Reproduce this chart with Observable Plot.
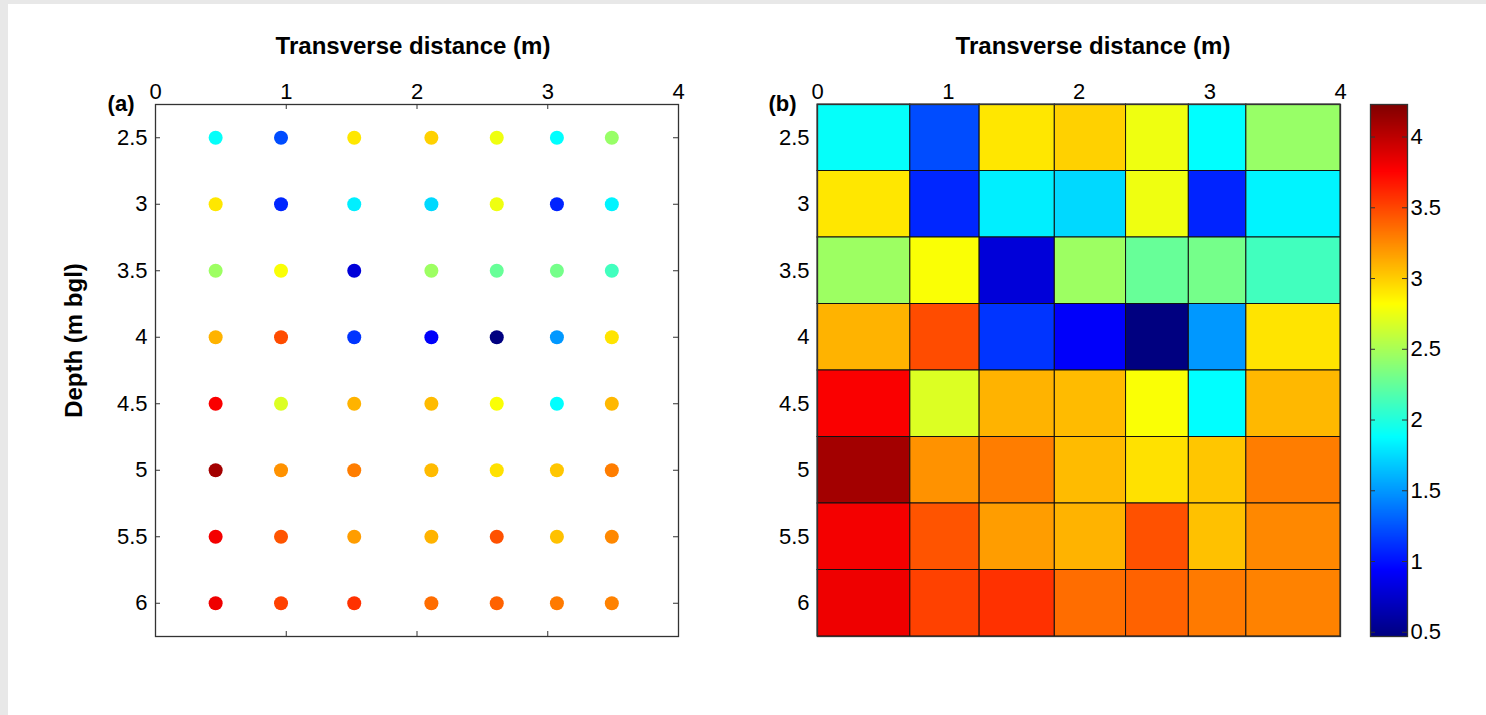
<!DOCTYPE html>
<html>
<head>
<meta charset="utf-8">
<script src="https://cdn.jsdelivr.net/npm/d3@7"></script>
<script src="https://cdn.jsdelivr.net/npm/@observablehq/plot@0.6"></script>
<style>
  body { margin: 0; }
  #page { position: relative; width: 1486px; height: 715px; background: #e8e8e8; overflow: hidden; }
  #sheet { position: absolute; left: 8px; top: 4px; right: 0; bottom: 0; background: #ffffff; }
  .panel { position: absolute; top: 0; }
</style>
</head>
<body>
<div id="page">
  <div id="sheet"></div>
  <div id="pa" class="panel" style="left:0px"></div>
  <div id="pb" class="panel" style="left:700px"></div>
  <div id="pc" class="panel" style="left:1360px"></div>
</div>
<script>
// ---- data ----
const distances = [0.46, 0.96, 1.52, 2.11, 2.61, 3.07, 3.49];   // transverse distance (m)
const depths = [2.5, 3, 3.5, 4, 4.5, 5, 5.5, 6];                // depth (m bgl)
const d25 = [1.90, 1.22, 2.91, 2.99, 2.76, 1.88, 2.44];
const d30 = [2.91, 1.08, 1.82, 1.74, 2.76, 1.07, 1.84];
const d35 = [2.46, 2.80, 0.80, 2.46, 2.26, 2.31, 2.12];
const d40 = [3.10, 3.48, 1.13, 0.92, 0.47, 1.50, 2.92];
const d45 = [3.78, 2.69, 3.10, 3.07, 2.80, 1.88, 3.08];
const d50 = [4.10, 3.22, 3.30, 3.07, 2.93, 3.03, 3.30];
const d55 = [3.80, 3.45, 3.18, 3.10, 3.46, 3.05, 3.26];
const d60 = [3.82, 3.52, 3.58, 3.36, 3.40, 3.31, 3.28];
const rows = [d25, d30, d35, d40, d45, d50, d55, d60];
const colorRange = [0.47, 4.23];                                 // colour-axis limits
const xTicks = [0, 1, 2, 3, 4];
const yTicks = [2.5, 3, 3.5, 4, 4.5, 5, 5.5, 6];
const cbTicks = [0.5, 1, 1.5, 2, 2.5, 3, 3.5, 4];
const xTitle = "Transverse distance (m)";
const yTitle = "Depth (m bgl)";

// table built from the arrays
const edgesX = [0, ...distances.slice(1).map((d, i) => (d + distances[i]) / 2), 4];
const table = [];
depths.forEach((dep, j) => distances.forEach((dist, i) => table.push({
  x: dist, y: dep, v: rows[j][i],
  x1: edgesX[i], x2: edgesX[i + 1], y1: dep - 0.25, y2: dep + 0.25
})));
const [vmin, vmax] = colorRange;

// MATLAB-like jet colormap
const jet = t => {
  const c = u => Math.round(255 * Math.max(0, Math.min(1, u)));
  return `rgb(${c(1.5 - Math.abs(4 * t - 3))},${c(1.5 - Math.abs(4 * t - 2))},${c(1.5 - Math.abs(4 * t - 1))})`;
};
const colorOpts = { type: "linear", domain: [vmin, vmax], interpolate: jet, clamp: true };

const FONT = "'Liberation Sans', Arial, Helvetica, sans-serif";
const style = { fontFamily: FONT, fontSize: "22px", color: "#000", background: "transparent", overflow: "visible" };
const frameH = 532, frameW = 523;
const fmt = d => String(d);

function inwardTicks() {
  return [
    Plot.tickX(xTicks, { x: d => d, insetBottom: frameH - 5, stroke: "#333", strokeWidth: 1 }),
    Plot.tickX(xTicks, { x: d => d, insetTop: frameH - 5, stroke: "#333", strokeWidth: 1 }),
    Plot.tickY(yTicks, { y: d => d, insetRight: frameW - 5, stroke: "#333", strokeWidth: 1 }),
    Plot.tickY(yTicks, { y: d => d, insetLeft: frameW - 5, stroke: "#333", strokeWidth: 1 })
  ];
}
function axesAndTitles(tag, titleDx, showYTitle) {
  const m = [
    Plot.axisX({ anchor: "top", ticks: xTicks, tickSize: 0, tickPadding: 6, tickFormat: fmt, label: null }),
    Plot.axisY({ anchor: "left", ticks: yTicks, tickSize: 0, tickPadding: 8, tickFormat: fmt, label: null }),
    Plot.text([xTitle], { frameAnchor: "top", text: d => d, dy: -51, dx: titleDx, lineAnchor: "bottom",
      fontWeight: "bold", fontSize: 24, fill: "#000" }),
    Plot.text([tag], { frameAnchor: "top-left", text: d => d, dx: -21, dy: 6, textAnchor: "end",
      lineAnchor: "bottom", fontWeight: "bold", fontSize: 22, fill: "#000" })
  ];
  if (showYTitle) m.push(Plot.text([yTitle], { frameAnchor: "left", text: d => d, rotate: -90, dx: -81, dy: -30,
    textAnchor: "middle", lineAnchor: "middle", fontWeight: "bold", fontSize: 24, fill: "#000" }));
  return m;
}

// ---- panel (a): dots ----
const pa = Plot.plot({
  width: 700, height: 680,
  marginLeft: 155, marginRight: 22, marginTop: 104, marginBottom: 44,
  style,
  x: { domain: [0, 4], axis: null },
  y: { domain: [6.25, 2.25], axis: null },
  color: colorOpts,
  marks: [
    Plot.frame({ stroke: "#333", strokeWidth: 1.3 }),
    ...inwardTicks(),
    Plot.dot(table, { x: "x", y: "y", fill: "v", r: 7 }),
    ...axesAndTitles("(a)", -4, true)
  ]
});
document.getElementById("pa").append(pa);

// ---- panel (b): cells ----
const pb = Plot.plot({
  width: 660, height: 680,
  marginLeft: 117, marginRight: 20, marginTop: 104, marginBottom: 44,
  style,
  x: { domain: [0, 4], axis: null },
  y: { domain: [6.25, 2.25], axis: null },
  color: colorOpts,
  marks: [
    Plot.rect(table, { x1: "x1", x2: "x2", y1: "y1", y2: "y2", fill: "v", stroke: "#111", strokeWidth: 1 }),
    Plot.frame({ stroke: "#333", strokeWidth: 1.3 }),
    ...axesAndTitles("(b)", 14, false)
  ]
});
document.getElementById("pb").append(pb);

// ---- colorbar ----
const barW = 37;
const pc = Plot.plot({
  width: 126, height: 680,
  marginLeft: 10, marginRight: 126 - 10 - barW, marginTop: 104, marginBottom: 44,
  style,
  x: { domain: [0, 1], axis: null },
  y: { domain: [vmin, vmax], axis: null },
  color: colorOpts,
  marks: [
    Plot.raster({ x1: 0, x2: 1, y1: vmin, y2: vmax, width: 1, height: 400, fill: (x, y) => y }),
    Plot.tickY(cbTicks, { y: d => d, insetRight: barW - 5, stroke: "#333", strokeWidth: 1 }),
    Plot.tickY(cbTicks, { y: d => d, insetLeft: barW - 5, stroke: "#333", strokeWidth: 1 }),
    Plot.frame({ stroke: "#333", strokeWidth: 1.3 }),
    Plot.axisY({ anchor: "right", ticks: cbTicks, tickSize: 0, tickPadding: 3, tickFormat: fmt, label: null })
  ]
});
document.getElementById("pc").append(pc);
</script>
</body>
</html>
